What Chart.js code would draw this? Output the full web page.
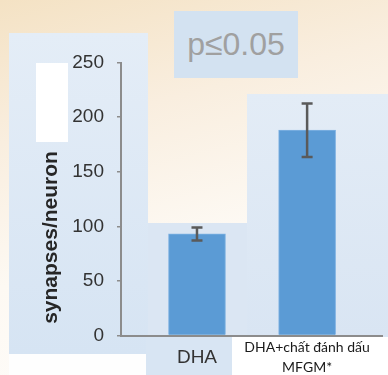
<!DOCTYPE html>
<html lang="vi">
  <head>
    <meta charset="UTF-8" />
    <title>Synapses per neuron</title>
    <script src="https://cdn.jsdelivr.net/npm/chart.js"></script>
    <style>
      html, body {
        margin: 0;
        padding: 0;
      }
      body {
        width: 388px;
        height: 375px;
        overflow: hidden;
        position: relative;
        background: linear-gradient(165deg, #f4e2c4 0%, #f9eedf 30%, #fdf9f3 60%, #fefdfb 100%);
        font-family: 'Liberation Sans', Arial, sans-serif;
      }
      .panel {
        position: absolute;
      }
      #panel-left {
        left: 9px; top: 33px; width: 139px; height: 321px;
        background: linear-gradient(180deg, #e4edf7 0%, #d6e4f3 100%);
      }
      #panel-mid {
        left: 148px; top: 223px; width: 100px; height: 114px;
        background: #dbe6f3;
      }
      #panel-right {
        left: 247px; top: 94px; width: 141px; height: 243px;
        background: linear-gradient(180deg, #e3ecf6 0%, #d9e5f3 100%);
      }
      #panel-dha {
        left: 146px; top: 337px; width: 86px; height: 38px;
        background: #d8e5f3;
      }
      #white-a { left: 36px; top: 63px; width: 32px; height: 79px; background: #fff; }
      #white-b { left: 232px; top: 337px; width: 156px; height: 38px; background: #fff; }
      #white-c { left: 9px; top: 354px; width: 137px; height: 21px; background: #fefefe; }
      #pbox {
        left: 174px; top: 11px; width: 124px; height: 67px;
        background: #d3e2f1;
        color: #a0a0a0;
        font-size: 32px;
        line-height: 67px;
        text-align: center;
      }
      #chart-wrap {
        position: absolute;
        left: 0; top: 0;
        width: 388px; height: 375px;
      }
    </style>
  </head>
  <body>
    <div class="panel" id="panel-left"></div>
    <div class="panel" id="panel-mid"></div>
    <div class="panel" id="panel-right"></div>
    <div class="panel" id="panel-dha"></div>
    <div class="panel" id="white-a"></div>
    <div class="panel" id="white-b"></div>
    <div class="panel" id="white-c"></div>
    <div class="panel" id="pbox">p≤0.05</div>
    <div id="chart-wrap"><canvas id="chart"></canvas></div>

    <script>
      // data
      const categories = ['DHA', 'DHA+chất đánh dấu\nMFGM*'];
      const synapses = [93, 188];
      const errors = [6, 24.5];
      const yTicks = [0, 50, 100, 150, 200, 250];

      const barColor = '#5b9bd5';
      const axisColor = '#8c8c8c';

      // simple error bars drawn with the chart's own scales
      const errorBars = {
        id: 'errorBars',
        afterDatasetsDraw(chart) {
          const { ctx, scales } = chart;
          ctx.save();
          ctx.strokeStyle = '#5a5a5a';
          ctx.lineWidth = 2.5;
          synapses.forEach((v, i) => {
            const x = scales.x.getPixelForValue(i);
            const yTop = scales.y.getPixelForValue(v + errors[i]);
            const yBot = scales.y.getPixelForValue(v - errors[i]);
            ctx.beginPath();
            ctx.moveTo(x, yTop);
            ctx.lineTo(x, yBot);
            ctx.moveTo(x - 5.5, yTop);
            ctx.lineTo(x + 5.5, yTop);
            ctx.moveTo(x - 5.5, yBot);
            ctx.lineTo(x + 5.5, yBot);
            ctx.stroke();
          });
          ctx.restore();
        },
      };

      new Chart(document.getElementById('chart'), {
        type: 'bar',
        data: {
          datasets: [
            {
              data: synapses.map((v, i) => ({ x: i, y: v })),
              backgroundColor: barColor,
              borderColor: '#7fb2e2',
              borderWidth: 1,
              barThickness: 57,
            },
          ],
        },
        options: {
          responsive: true,
          maintainAspectRatio: false,
          animation: false,
          layout: { padding: { top: 62.5, right: 6, bottom: 0, left: 0 } },
          plugins: {
            legend: { display: false },
            tooltip: { enabled: false },
          },
          scales: {
            x: {
              type: 'linear',
              offset: false,
              min: -0.69,
              max: 1.68,
              afterBuildTicks(scale) {
                scale.ticks = categories.map((_, i) => ({ value: i }));
              },
              afterFit(scale) {
                scale.height = 39.5;
              },
              grid: { display: false, drawTicks: false, offset: false },
              border: { display: true, color: axisColor, width: 2 },
              ticks: {
                padding: 2,
                maxRotation: 0,
                autoSkip: false,
                callback: (value) => categories[value].split('\n'),
                color: (c) => (c.index === 0 ? '#333333' : '#1a1a1a'),
                font: (c) =>
                  c.index === 0
                    ? { family: "'Liberation Sans', Arial", size: 19, lineHeight: '40px' }
                    : { family: 'Lato, "Open Sans"', size: 14, lineHeight: '20px' },
              },
            },
            y: {
              min: 0,
              max: 250,
              afterBuildTicks(scale) {
                scale.ticks = yTicks.map((v) => ({ value: v }));
              },
              afterFit(scale) {
                scale.width = 121;
              },
              grid: {
                drawOnChartArea: false,
                drawTicks: true,
                tickLength: 4,
                color: axisColor,
                lineWidth: 1.5,
              },
              border: { display: true, color: axisColor, width: 2 },
              ticks: {
                padding: 13,
                color: '#333333',
                font: { family: "'Liberation Sans', Arial", size: 19 },
              },
              title: {
                display: true,
                text: '  synapses/neuron',
                align: 'start',
                color: '#262626',
                padding: { top: 39, bottom: 0 },
                font: { family: "'Liberation Sans', Arial", size: 21, weight: 'bold' },
              },
            },
          },
        },
        plugins: [errorBars],
      });
    </script>
  </body>
</html>
